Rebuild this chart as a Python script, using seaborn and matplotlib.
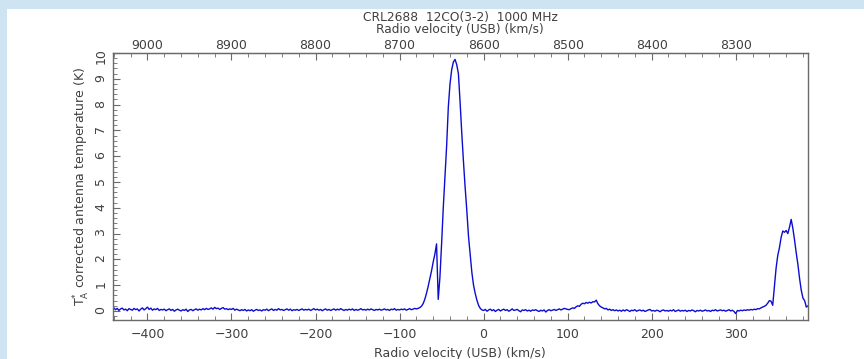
import numpy as np
import pandas as pd
import matplotlib
matplotlib.use("Agg")
import matplotlib.pyplot as plt
import seaborn as sns
from matplotlib.ticker import MultipleLocator
from matplotlib.patches import Rectangle

# ---------------- data ----------------
title_text = "CRL2688  12CO(3-2)  1000 MHz"
x_label = "Radio velocity (USB) (km/s)"
top_label = "Radio velocity (USB) (km/s)"
y_label = r"$\mathrm{T}_\mathrm{A}^{*}$ corrected antenna temperature (K)"

v_start = -440      # km/s, first channel
v_step = 2          # km/s, channel width
rest_offset = 8600  # top axis = rest_offset - velocity

t_antenna = [
    # -440 .. -80 baseline
    0.12, 0.05, 0.10, 0.02, 0.08, 0.11, 0.04, 0.07, 0.01, 0.09,
    0.06, 0.03, 0.10, 0.05, 0.08, 0.00, 0.07, 0.12, 0.04, 0.09,
    0.15, 0.06, 0.11, 0.03, 0.08, 0.05, 0.10, 0.02, 0.06, 0.04,
    0.07, 0.01, 0.05, 0.08, 0.02, 0.06, -0.01, 0.04, 0.07, 0.03,
    0.00, 0.05, 0.02, 0.07, -0.02, 0.04, 0.06, 0.01, 0.05, 0.08,
    0.03, 0.07, 0.04, 0.09, 0.05, 0.10, 0.06, 0.08, 0.12, 0.07,
    0.14, 0.09, 0.11, 0.06, 0.10, 0.13, 0.07, 0.09, 0.05, 0.08,
    0.06, 0.10, 0.03, 0.07, 0.04, 0.01, 0.05, 0.02, 0.06, 0.00,
    0.04, 0.01, 0.05, -0.01, 0.03, 0.06, 0.02, 0.04, 0.00, 0.05,
    0.03, 0.07, 0.01, 0.05, 0.08, 0.02, 0.06, 0.03, 0.09, 0.04,
    0.06, 0.02, 0.05, 0.08, 0.03, 0.07, 0.01, 0.05, 0.03, 0.06,
    0.02, 0.05, 0.08, 0.03, 0.06, 0.04, 0.07, 0.02, 0.05, 0.09,
    0.04, 0.07, 0.03, 0.06, 0.01, 0.05, 0.08, 0.03, 0.06, 0.02,
    0.05, 0.08, 0.03, 0.07, 0.04, 0.09, 0.05, 0.02, 0.06, 0.03,
    0.07, 0.04, 0.08, 0.02, 0.06, 0.03, 0.05, 0.09, 0.04, 0.06,
    0.03, 0.07, 0.04, 0.08, 0.05, 0.02, 0.06, 0.04, 0.07, 0.03,
    0.05, 0.08, 0.04, 0.06, 0.02, 0.07, 0.05, 0.09, 0.03, 0.06,
    0.04, 0.07, 0.05, 0.08, 0.03, 0.06, 0.09, 0.05, 0.07, 0.10,
    0.08,
    # -78 .. -2 main line
    0.10, 0.13, 0.18, 0.28, 0.45, 0.68, 0.95, 1.25, 1.55, 1.90,
    2.20, 2.60, 0.45, 1.30, 2.60, 4.00, 5.20, 6.40, 7.90, 8.80,
    9.35, 9.65, 9.75, 9.55, 9.20, 8.10, 6.90, 5.80, 4.80, 3.90,
    2.90, 2.20, 1.50, 1.00, 0.68, 0.42, 0.22, 0.10, 0.04,
    # 0 .. 100 baseline
    0.02, 0.06, -0.01, 0.04, 0.07, 0.01, 0.05, -0.02, 0.03, 0.06,
    0.00, 0.04, 0.07, 0.02, 0.05, -0.01, 0.03, 0.08, 0.02, 0.04,
    0.06, 0.01, -0.03, 0.04, 0.02, 0.05, 0.00, 0.03, -0.01, 0.04,
    0.02, 0.05, 0.01, -0.02, 0.03, 0.00, 0.04, -0.04, 0.02, 0.05,
    0.01, 0.03, 0.06, 0.02, 0.05, 0.08, 0.04, 0.07, 0.10, 0.08,
    0.06,
    # 102 .. 160 weak line
    0.05, 0.09, 0.12, 0.10, 0.16, 0.20, 0.18, 0.26, 0.30, 0.28,
    0.33, 0.30, 0.34, 0.31, 0.36, 0.35, 0.42, 0.28, 0.20, 0.15,
    0.12, 0.08, 0.10, 0.04, 0.07, 0.02, 0.05, 0.01, 0.04, 0.00,
    # 162 .. 330 baseline
    0.03, -0.01, 0.04, 0.00, 0.05, 0.02, -0.02, 0.03, 0.01, 0.05,
    -0.01, 0.02, 0.04, 0.00, 0.03, -0.02, 0.01, 0.04, 0.06, 0.00,
    0.02, -0.01, 0.03, 0.01, -0.03, 0.02, 0.04, 0.00, 0.02, -0.01,
    0.03, 0.00, 0.05, -0.02, 0.01, 0.04, -0.01, 0.02, 0.00, 0.03,
    -0.02, 0.02, 0.00, 0.04, 0.01, -0.03, 0.02, 0.00, 0.03, -0.01,
    0.01, 0.04, 0.00, 0.02, -0.02, 0.03, 0.01, 0.05, 0.00, 0.02,
    0.04, 0.01, 0.03, -0.01, 0.02, 0.05, 0.00, 0.03, -0.02, -0.10,
    0.02, 0.00, 0.03, 0.01, 0.04, 0.02, 0.05, 0.03, 0.06, 0.04,
    0.07, 0.05, 0.09, 0.08, 0.12,
    # 332 .. 386 image-band line
    0.15, 0.18, 0.22, 0.30, 0.40, 0.38, 0.22, 0.95, 1.65, 2.15,
    2.45, 2.85, 3.10, 3.05, 3.12, 3.00, 3.25, 3.55, 3.20, 2.75,
    2.25, 1.80, 1.25, 0.80, 0.50, 0.40, 0.15, 0.20,
]
velocity = v_start + v_step * np.arange(len(t_antenna))

x_ticks = [-400, -300, -200, -100, 0, 100, 200, 300]
top_ticks = [9000, 8900, 8800, 8700, 8600, 8500, 8400, 8300]
y_ticks = [0, 1, 2, 3, 4, 5, 6, 7, 8, 9, 10]

# ---------------- style ----------------
sns.set_style("ticks")
plt.rcParams["font.family"] = ["DejaVu Sans"]
plt.rcParams["font.size"] = 9
text_col = "#404040"
spine_col = "#6a6a6a"

fig = plt.figure(figsize=(8.64, 3.59), dpi=100)
fig.patch.set_facecolor("white")
border = "#cfe4f2"
fig.patches.append(Rectangle((0, 0), 7 / 864, 1, transform=fig.transFigure,
                             facecolor=border, edgecolor="none", zorder=0))
fig.patches.append(Rectangle((0, 1 - 9 / 359), 1, 9 / 359, transform=fig.transFigure,
                             facecolor=border, edgecolor="none", zorder=0))

ax = fig.add_axes([113 / 864, 1 - 320 / 359, 695 / 864, 267 / 359])
df = pd.DataFrame({"velocity": velocity, "T": t_antenna})
sns.lineplot(data=df, x="velocity", y="T", ax=ax, color="#0c0cd2", lw=1.0,
             estimator=None, sort=False)

ax.set_xlim(-441, 386)
ax.set_ylim(-0.35, 10)
ax.set_xticks(x_ticks)
ax.xaxis.set_minor_locator(MultipleLocator(20))
ax.set_yticks(y_ticks)
ax.yaxis.set_minor_locator(MultipleLocator(0.2))
ax.tick_params(which="both", direction="in", color=spine_col, labelcolor=text_col,
               labelsize=9, top=False, right=False)
ax.tick_params(which="major", length=5, width=0.8)
ax.tick_params(which="minor", length=3, width=0.6)
ax.tick_params(axis="x", pad=6)
ax.tick_params(axis="y", pad=4, labelrotation=90)
for s in ax.spines.values():
    s.set_visible(True)
    s.set_color(spine_col)
    s.set_linewidth(1.0)

ax.set_xlabel("")
ax.set_ylabel(y_label, color=text_col, fontsize=9, labelpad=2)

secax = ax.secondary_xaxis("top", functions=(lambda v: rest_offset - v,
                                              lambda f: rest_offset - f))
secax.set_xticks(top_ticks)
secax.xaxis.set_minor_locator(MultipleLocator(20))
secax.tick_params(which="both", direction="in", color=spine_col, labelcolor=text_col,
                  labelsize=9, pad=1)
secax.tick_params(which="major", length=5, width=0.8)
secax.tick_params(which="minor", length=3, width=0.6)
secax.spines["top"].set_color(spine_col)

fig.text(460 / 864, 1 - 21.5 / 359, title_text, ha="center", va="baseline",
         color=text_col, fontsize=8.8)
fig.text(460 / 864, 1 - 33.5 / 359, top_label, ha="center", va="baseline",
         color=text_col, fontsize=8.8)
fig.text(460 / 864, 1 - 356.5 / 359, x_label, ha="center", va="baseline",
         color=text_col, fontsize=9)

fig.savefig("out.png", dpi=100, facecolor="white")
